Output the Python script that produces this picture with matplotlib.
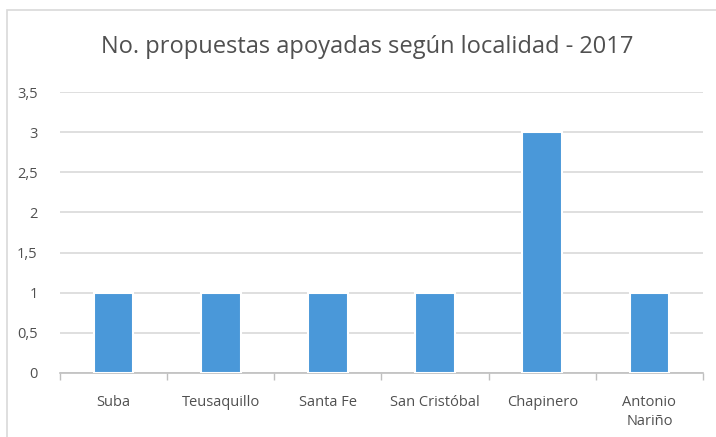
import matplotlib.pyplot as plt
import matplotlib.patches as mpatches

# data
localidades = ["Suba", "Teusaquillo", "Santa Fe", "San Cristóbal", "Chapinero", "Antonio\nNariño"]
propuestas = [1, 1, 1, 1, 3, 1]
yticks = [0, 0.5, 1, 1.5, 2, 2.5, 3, 3.5]
ylabels = ["0", "0,5", "1", "1,5", "2", "2,5", "3", "3,5"]

plt.rcParams['font.family'] = ['Open Sans', 'DejaVu Sans']

W, H = 716, 437
fig = plt.figure(figsize=(W / 100, H / 100), dpi=100)

# chart border (runs off the right and bottom of the picture)
fig.patches.append(mpatches.Rectangle((7 / W, -0.1), 1.2, 1 - 9.5 / H + 0.1,
                                      transform=fig.transFigure, fill=False,
                                      edgecolor="#d9d9d9", linewidth=1.2))

ax = fig.add_axes([60 / W, 1 - 373 / H, (703 - 60) / W, (373 - 92) / H])
x = range(len(localidades))
ax.bar(x, propuestas, width=0.37, color="#4a98d9", edgecolor="white",
       linewidth=1.5, zorder=3)

ax.set_xlim(-0.5, len(localidades) - 0.5)
ax.set_ylim(0, 3.5)
ax.set_yticks(yticks)
ax.set_yticklabels(ylabels)
ax.yaxis.grid(True, color="#d9d9d9", linewidth=1.2, zorder=0)
ax.set_xticks(x)
ax.set_xticklabels(localidades, linespacing=1.3)

# category separator ticks on the x axis
ax.set_xticks([i - 0.5 for i in range(len(localidades) + 1)], minor=True)
ax.tick_params(axis="x", which="minor", length=5, color="#bfbfbf", width=1)
ax.tick_params(axis="x", which="major", length=0, pad=16, labelsize=10.5, labelcolor="#505050")
ax.tick_params(axis="y", length=0, pad=16, labelsize=10.5, labelcolor="#505050")

for s in ["top", "right", "left"]:
    ax.spines[s].set_visible(False)
ax.spines["bottom"].set_color("#bfbfbf")
ax.spines["bottom"].set_linewidth(1.2)

fig.text(367 / W, 1 - 47 / H, "No. propuestas apoyadas según localidad - 2017",
         ha="center", va="center", fontsize=17, color="#505050")

fig.savefig("out.png", dpi=100)
